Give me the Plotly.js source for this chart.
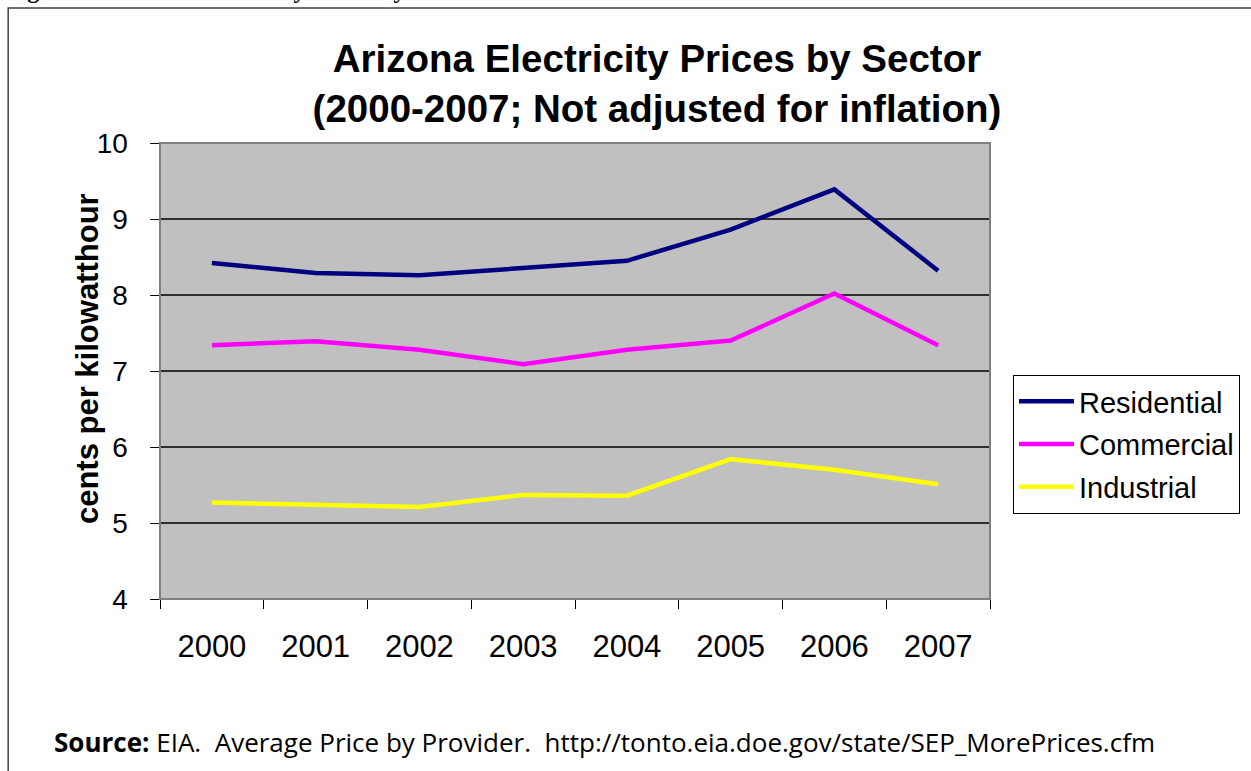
<!DOCTYPE html>
<html>
<head>
<meta charset="utf-8">
<script src="https://cdn.plot.ly/plotly-3.0.1.min.js"></script>
<style>
  html, body { margin: 0; padding: 0; background: #ffffff; }
  #chart { width: 1251px; height: 771px; }
</style>
</head>
<body>
<div id="chart"></div>
<script>
// ---- data ----
const years = ['2000', '2001', '2002', '2003', '2004', '2005', '2006', '2007'];
const residential = [8.42, 8.29, 8.26, 8.35, 8.45, 8.86, 9.39, 8.32];
const commercial  = [7.34, 7.39, 7.28, 7.09, 7.28, 7.40, 8.02, 7.34];
const industrial  = [5.27, 5.24, 5.21, 5.37, 5.36, 5.84, 5.70, 5.51];
const seriesNames = ['Residential', 'Commercial', 'Industrial'];
const yTicks = [4, 5, 6, 7, 8, 9, 10];

const chartTitle = 'Arizona Electricity Prices by Sector<br>(2000-2007; Not adjusted for inflation)';
const yTitle = 'cents per kilowatthour';
const figureCaption = 'Figure 2:  Arizona Electricity Prices by Sector and Year';
const sourceText = '<b>Source:</b> EIA.  Average Price by Provider.  http://tonto.eia.doe.gov/state/SEP_MorePrices.cfm';

const W = 1251, H = 771;
const L = 160, R = 991, T = 143, B = 599;
const px2x = p => (p - L) / (R - L);
const px2y = p => (B - p) / (B - T);

const colors = ['#000080', '#FF00FF', '#FFFF00'];
const seriesData = [residential, commercial, industrial];

const traces = seriesData.map((vals, i) => ({
  type: 'scatter',
  mode: 'lines',
  x: years,
  y: vals,
  name: seriesNames[i],
  legendgroup: seriesNames[i],
  line: { color: colors[i], width: 4.5 },
  hoverinfo: 'x+y+name'
}));

const layout = {
  width: W, height: H,
  margin: { l: L, r: W - R, t: T, b: H - B, pad: 0 },
  paper_bgcolor: '#ffffff',
  plot_bgcolor: '#C0C0C0',
  font: { family: 'Liberation Sans, Arial, sans-serif', color: '#000000' },
  title: {
    text: chartTitle,
    font: { family: 'Liberation Sans, Arial, sans-serif', size: 38.5, weight: 'bold', color: '#000' },
    x: 657 / W, xanchor: 'center', xref: 'container',
    y: 1 - 72 / H, yanchor: 'top', yref: 'container'
  },
  xaxis: {
    type: 'category',
    range: [-0.5, years.length - 0.5],
    tickson: 'boundaries',
    ticks: 'outside', ticklen: 9, tickwidth: 1, tickcolor: '#000',
    showline: true, linecolor: '#000', linewidth: 1,
    showgrid: false, zeroline: false,
    tickfont: { size: 31, color: '#000' },
    ticklabelstandoff: 20,
    fixedrange: true
  },
  yaxis: {
    range: [4, 10],
    tickvals: yTicks,
    ticks: 'outside', ticklen: 9, tickwidth: 1, tickcolor: '#000',
    showline: true, linecolor: '#000', linewidth: 1.5,
    showgrid: true, gridcolor: '#303030', gridwidth: 1.3,
    zeroline: false,
    tickfont: { size: 28, color: '#000' },
    ticklabelstandoff: 16,
    fixedrange: true
  },
  showlegend: true,
  legend: {
    x: px2x(1013), xanchor: 'left',
    y: px2y(375), yanchor: 'top',
    bgcolor: '#ffffff',
    bordercolor: '#000000', borderwidth: 1,
    font: { size: 29, color: '#000' },
    traceorder: 'grouped',
    tracegroupgap: 2,
    itemwidth: 55
  },
  shapes: [
    // plot area frame (gray top/right)
    { type: 'rect', xref: 'paper', yref: 'paper', x0: 0, x1: 1, y0: 0, y1: 1,
      line: { color: '#808080', width: 2 }, layer: 'above' },
    // outer figure frame
    { type: 'rect', xref: 'paper', yref: 'paper',
      x0: px2x(8), x1: px2x(1270), y0: px2y(790), y1: px2y(8),
      line: { color: '#404040', width: 1.5 }, layer: 'below' }
  ],
  annotations: [
    // y axis title
    { text: yTitle, xref: 'paper', yref: 'paper',
      x: px2x(87), xanchor: 'center', y: px2y(359), yanchor: 'middle',
      textangle: -90, showarrow: false,
      font: { size: 31, weight: 'bold', color: '#000' } },
    { text: figureCaption, xref: 'paper', yref: 'paper',
      x: px2x(4), xanchor: 'left', y: px2y(5), yanchor: 'bottom',
      showarrow: false,
      font: { family: 'Liberation Serif, Times New Roman, serif', size: 24, weight: 'bold', color: '#000' } },
    { text: sourceText, xref: 'paper', yref: 'paper',
      x: px2x(52), xanchor: 'left', y: px2y(742), yanchor: 'middle',
      showarrow: false,
      font: { family: 'Open Sans, Noto Sans, sans-serif', size: 26, color: '#000' } }
  ]
};

Plotly.newPlot('chart', traces, layout, { displayModeBar: false, staticPlot: true });
</script>
</body>
</html>
